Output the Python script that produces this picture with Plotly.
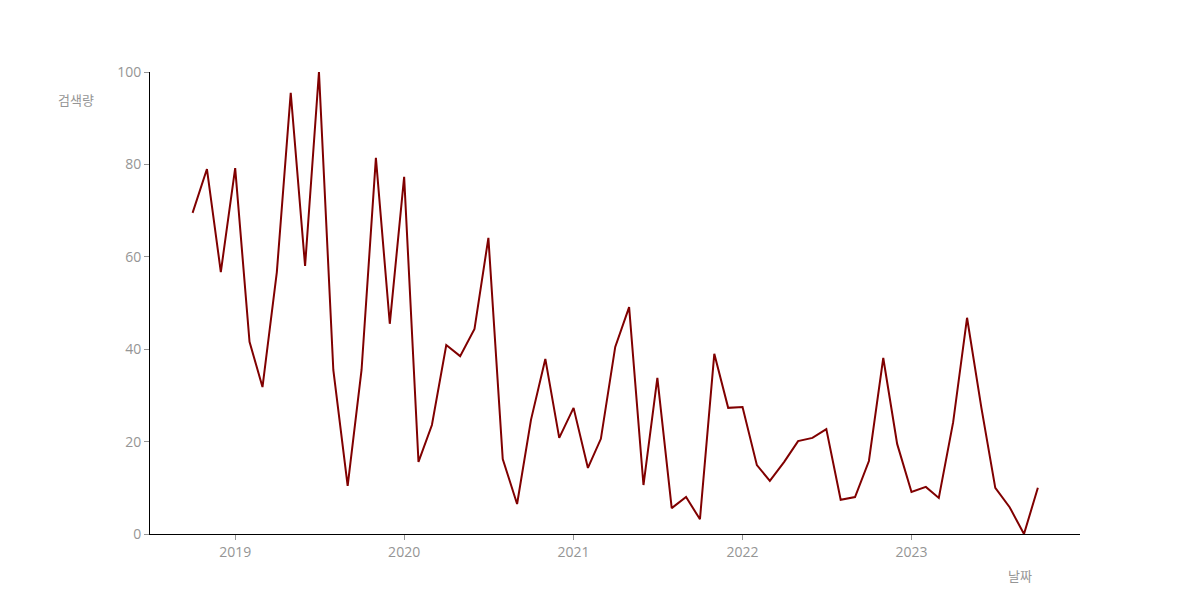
import plotly.graph_objects as go
import pandas as pd

dates = pd.date_range("2018-10-01", "2023-10-01", freq="MS").strftime("%Y-%m-%d").tolist()
values = [69.5, 79.0, 56.7, 79.2, 41.6, 31.8, 56.7, 95.5, 58.0, 100.0,
          35.5, 10.4, 35.5, 81.4, 45.5, 77.3, 15.6, 23.6, 40.9, 38.5,
          44.4, 64.1, 16.2, 6.5, 24.7, 37.9, 20.8, 27.3, 14.3, 20.6,
          40.5, 49.1, 10.6, 33.8, 5.6, 8.0, 3.2, 39.0, 27.3, 27.5,
          14.9, 11.5, 15.6, 20.1, 20.8, 22.7, 7.4, 8.0, 15.8, 38.1,
          19.5, 9.1, 10.2, 7.8, 24.2, 46.8, 27.3, 10.0, 5.8, 0.0, 10.0]
y_title = "검색량"
x_title = "날짜"

font_family = "Open Sans, Noto Sans CJK KR, sans-serif"
gray = "#959595"

fig = go.Figure()
fig.add_trace(go.Scatter(x=dates, y=values, mode="lines",
                         line=dict(color="#800000", width=2), showlegend=False))

fig.update_layout(
    width=1200, height=600,
    margin=dict(l=142, r=128, t=64, b=74),
    plot_bgcolor="white", paper_bgcolor="white",
    font=dict(family=font_family, size=14, color=gray),
    xaxis=dict(range=["2018-07-01", "2023-12-31"], showgrid=False, zeroline=False,
               showline=True, linecolor="black", linewidth=1,
               ticks="outside", ticklen=5, tickcolor=gray,
               dtick="M12", tick0="2019-01-01", tickformat="%Y",
               tickfont=dict(size=14, color=gray)),
    yaxis=dict(range=[0, 100], showgrid=False, zeroline=False,
               showline=True, linecolor="black", linewidth=1,
               ticks="outside", ticklen=5, tickcolor=gray,
               dtick=20, tickfont=dict(size=14, color=gray)),
    annotations=[
        dict(text=y_title, xref="paper", yref="paper", x=-0.08, y=0.94,
             xanchor="center", yanchor="middle", showarrow=False,
             font=dict(size=13, color=gray, family=font_family)),
        dict(text=x_title, xref="paper", yref="paper", x=0.935, y=-0.09,
             xanchor="center", yanchor="middle", showarrow=False,
             font=dict(size=13, color=gray, family=font_family)),
    ],
)

fig.write_html("out.html")
